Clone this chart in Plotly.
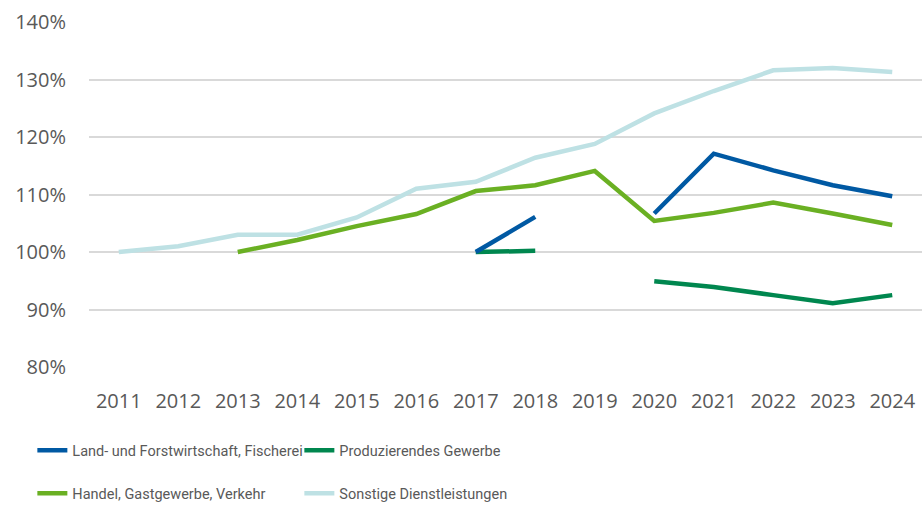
import plotly.graph_objects as go

years = [str(y) for y in range(2011, 2025)]

land = [None, None, None, None, None, None, 100.0, 106.1, None, 106.7, 117.1, 114.2, 111.6, 109.7]
prod = [None, None, None, None, None, None, 100.0, 100.2, None, 94.9, 93.9, 92.5, 91.1, 92.5]
handel = [None, None, 100.0, 102.1, 104.5, 106.6, 110.6, 111.6, 114.1, 105.4, 106.8, 108.6, 106.7, 104.7]
sonst = [100.0, 101.0, 103.0, 103.0, 106.0, 111.0, 112.2, 116.4, 118.8, 124.1, 128.0, 131.6, 132.0, 131.3]

names = ["Land- und Forstwirtschaft, Fischerei", "Produzierendes Gewerbe",
         "Handel, Gastgewerbe, Verkehr", "Sonstige Dienstleistungen"]
colors = ["#0059A3", "#00874F", "#6AB023", "#BEE1E4"]
series = [land, prod, handel, sonst]
legends = ["legend", "legend", "legend2", "legend2"]

fig = go.Figure()
# draw order: Sonstige at back
for i in [3, 2, 1, 0]:
    fig.add_trace(go.Scatter(
        x=years, y=[v / 100 if v is not None else None for v in series[i]],
        mode="lines", name=names[i], legend=legends[i],
        line=dict(color=colors[i], width=4.5), connectgaps=False,
    ))

legend_font = dict(family="Roboto, sans-serif", size=14.5, color="#595959")

fig.update_layout(
    width=922, height=510,
    margin=dict(l=89, r=0, t=22, b=140),
    plot_bgcolor="white", paper_bgcolor="white",
    font=dict(family="Open Sans, sans-serif", color="#595959", size=20),
    xaxis=dict(type="category", range=[-0.5, 13.5], showgrid=False, showline=False,
               ticks="", tickfont=dict(size=20, color="#595959"), ticklabelstandoff=20),
    yaxis=dict(range=[0.8, 1.4], dtick=0.1, tickformat=".0%", showgrid=True,
               gridcolor="#D9D9D9", gridwidth=1.5, zeroline=False, showline=False,
               ticks="", tickfont=dict(size=20, color="#595959"), ticklabelstandoff=22),
    legend=dict(orientation="h", x=-0.068, xanchor="left", y=-0.195, yanchor="top",
                font=legend_font,
                entrywidth=222, entrywidthmode="pixels", traceorder="reversed",
                bgcolor="rgba(0,0,0,0)"),
    legend2=dict(orientation="h", x=-0.068, xanchor="left", y=-0.32, yanchor="top",
                 font=legend_font,
                 entrywidth=222, entrywidthmode="pixels", traceorder="reversed",
                 bgcolor="rgba(0,0,0,0)"),
    showlegend=True,
)

fig.write_html("out.html")
